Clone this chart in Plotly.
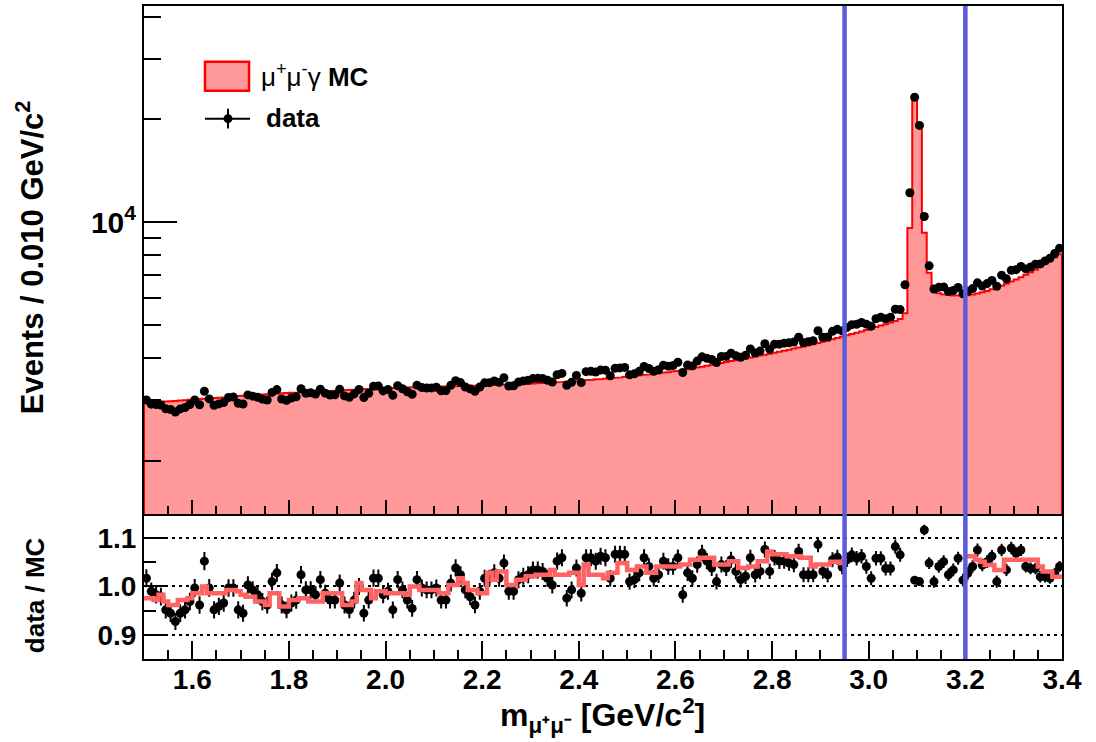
import plotly.graph_objects as go

# ---------------- data ----------------
x_lo, x_hi = 1.5, 3.4
bin_width = 0.01
n_bins = 190
bin_edges = [round(x_lo + bin_width * i, 3) for i in range(n_bins + 1)]
bin_centers = [round(x_lo + bin_width * (i + 0.5), 4) for i in range(n_bins)]

# MC (mu+ mu- gamma) counts per 0.010 GeV/c^2 bin
mc_counts = [
    2960, 2955, 2968, 2972, 2978, 2985, 2990, 2998, 3005, 3012,
    3020, 3028, 3035, 3040, 3048, 3055, 3060, 3070, 3078, 3090,
    3098, 3105, 3110, 3118, 3122, 3128, 3135, 3140, 3148, 3152,
    3158, 3162, 3170, 3172, 3180, 3185, 3190, 3195, 3200, 3205,
    3210, 3215, 3220, 3225, 3230, 3236, 3240, 3246, 3250, 3255,
    3260, 3262, 3266, 3270, 3272, 3276, 3280, 3282, 3285, 3288,
    3290, 3293, 3296, 3298, 3302, 3305, 3308, 3312, 3315, 3318,
    3322, 3325, 3328, 3332, 3336, 3340, 3344, 3348, 3352, 3356,
    3362, 3368, 3374, 3380, 3386, 3392, 3400, 3406, 3414, 3422,
    3432, 3440, 3448, 3456, 3466, 3474, 3484, 3494, 3504, 3516,
    3530, 3540, 3552, 3564, 3576, 3590, 3604, 3618, 3632, 3646,
    3664, 3684, 3704, 3724, 3744, 3766, 3788, 3810, 3834, 3860,
    3890, 3912, 3936, 3960, 3984, 4008, 4034, 4060, 4086, 4112,
    4140, 4168, 4196, 4226, 4256, 4288, 4320, 4352, 4386, 4420,
    4456, 4494, 4532, 4572, 4612, 4654, 4696, 4738, 4780, 4822,
    4870, 4920, 4970, 5020, 5075, 5130, 5200,
    5400, 9600, 22900, 19000, 9300, 7100, 6300,
    6180, 6140, 6110, 6090, 6080, 6080,
    6100, 6130, 6170, 6220, 6280, 6350, 6420, 6500, 6590, 6690,
    6790, 6890, 7000, 7120, 7250, 7390, 7540, 7700, 7870, 8050,
]

# data / MC per bin
ratio_vals = [
    1.017, 0.990, 0.983, 0.979, 0.952, 0.945, 0.928, 0.945, 0.952, 0.969,
    0.997, 0.962, 1.052, 0.997, 0.952, 0.959, 0.966, 0.997, 0.997, 0.952,
    0.945, 1.003, 0.993, 0.983, 0.969, 0.962, 1.010, 1.028, 0.962, 0.952,
    0.966, 0.972, 1.024, 0.993, 0.993, 0.983, 1.014, 0.986, 0.972, 0.972,
    1.007, 0.962, 0.952, 0.972, 1.000, 0.945, 0.972, 1.017,
    1.017, 0.983, 0.990, 0.952, 1.014, 0.993, 0.972, 0.955, 1.014, 0.997,
    0.993, 0.993, 0.997, 0.972, 0.972, 1.007, 1.038, 1.024, 0.993, 0.979,
    0.962, 0.990, 1.017, 1.017, 1.028, 1.017, 1.048, 0.990, 0.990, 1.014,
    1.021, 1.024, 1.034, 1.034, 1.031, 1.017, 1.003, 1.052, 1.059, 0.976,
    0.993, 1.038, 0.986, 1.059, 1.059, 1.052, 1.062,
    1.059, 1.017, 1.066, 1.066, 1.066, 1.010, 1.014, 1.028, 1.059, 1.041,
    1.017, 1.024, 1.052, 1.041, 1.041, 1.059, 0.983, 1.028, 1.017, 1.045,
    1.069, 1.052, 1.038, 1.010, 1.045, 1.038, 1.055, 1.031, 1.014, 1.021,
    1.059, 1.024, 1.031, 1.076, 1.031, 1.059, 1.052, 1.052, 1.048, 1.045,
    1.072, 1.024, 1.024, 1.024, 1.086, 1.031, 1.024, 1.055,
    1.060, 1.040, 1.055, 1.065, 1.058, 1.062, 1.041, 1.017, 1.058, 1.058,
    1.037, 1.037, 1.082, 1.065, 1.213, 1.269, 1.013, 1.010, 1.116, 1.048,
    1.010, 1.041, 1.051, 1.024, 1.034, 1.058, 1.013, 1.027, 1.041, 1.075,
    1.044, 1.051, 1.062, 1.010, 1.075, 1.034, 1.079, 1.068, 1.075, 1.041,
    1.037, 1.037, 1.020, 1.020, 1.017, 1.027, 1.041,
]

# smoothed correction curve shown in the lower panel (absent in the signal window)
ratio_band = [
    0.976, 0.976, 0.972, 0.983, 0.969, 0.962, 0.962, 0.972, 0.972, 0.976,
    0.986, 0.986, 1.000, 0.986, 0.986, 0.986, 0.986, 0.993, 0.993, 0.990,
    0.983, 0.979, 0.979, 0.969, 0.969, 0.962, 0.986, 0.986, 0.959, 0.959,
    0.972, 0.972, 0.976, 0.976, 0.969, 0.969, 0.969, 0.986, 0.986, 0.986,
    0.986, 0.962, 0.962, 0.969, 1.007, 0.993, 0.993, 0.976,
    0.990, 0.990, 0.986, 0.986, 0.986, 0.986, 0.983, 1.000, 1.000, 0.993,
    0.993, 0.993, 0.993, 0.986, 0.986, 1.003, 1.003, 1.017, 1.007, 0.993,
    0.993, 0.986, 0.986, 1.028, 1.014, 1.031, 1.031, 1.003, 1.003, 1.014,
    1.014, 1.021, 1.021, 1.024, 1.024, 1.024, 1.034, 1.024, 1.024, 1.024,
    1.028, 1.028, 1.003, 1.045, 1.024, 1.024, 1.024,
    1.017, 1.028, 1.028, 1.048, 1.048, 1.034, 1.034, 1.041, 1.041, 1.028,
    1.028, 1.041, 1.041, 1.041, 1.041, 1.041, 1.045, 1.045, 1.055, 1.055,
    1.059, 1.059, 1.059, 1.045, 1.045, 1.045, 1.052, 1.052, 1.038, 1.038,
    1.041, 1.041, 1.052, 1.052, 1.072, 1.066, 1.066, 1.066, 1.062, 1.062,
    1.062, 1.059, 1.059, 1.041, 1.045, 1.045, 1.045, 1.051,
    1.051, 1.048,
    None, None, None, None, None, None, None, None, None, None,
    None, None, None, None, None, None, None, None, None, None,
    None, None, None, None, None,
    1.062, 1.062, 1.055, 1.051, 1.044, 1.044, 1.034, 1.034, 1.055, 1.055,
    1.055, 1.055, 1.055, 1.055, 1.055, 1.041, 1.031, 1.031, 1.020, 1.020,
]

cut_lines = [2.95, 3.2]

x_ticks = [1.6, 1.8, 2.0, 2.2, 2.4, 2.6, 2.8, 3.0, 3.2, 3.4]
x_tick_labels = ["1.6", "1.8", "2.0", "2.2", "2.4", "2.6", "2.8", "3.0", "3.2", "3.4"]
y_ticks = [10000]
y_tick_labels = ["10<sup>4</sup>"]
y_minor_ticks = [2000, 3000, 4000, 5000, 6000, 7000, 8000, 9000, 20000, 30000, 40000]
r_ticks = [0.9, 1.0, 1.1]
r_tick_labels = ["0.9", "1.0", "1.1"]
r_minor_ticks = [0.95, 1.05]

# data counts follow from MC x (data/MC)
data_counts = [m * r for m, r in zip(mc_counts, ratio_vals)]
ratio_err = [r / d ** 0.5 for r, d in zip(ratio_vals, data_counts)]

# ---------------- styling ----------------
FONT = "Liberation Sans, Arial, Helvetica, sans-serif"
PINK = "#ff9999"
RED = "#ff0000"
BAND = "#ff6262"
BLUE = "#5b5bdb"

L, R, T, B = 144, 34, 4, 83
W, H = 1096, 742
PW, PH = W - L - R, H - T - B
split = (659 - 514) / PH


def px(xp):
    return (xp - L) / PW


def py(yp):
    return (H - B - yp) / PH


fig = go.Figure()

# MC histogram (filled step polygon)
floor_val = 100
mc_x, mc_y = [x_lo], [floor_val]
for i, v in enumerate(mc_counts):
    mc_x += [bin_edges[i], bin_edges[i + 1]]
    mc_y += [v, v]
mc_x.append(x_hi)
mc_y.append(floor_val)
fig.add_trace(go.Scatter(
    x=mc_x, y=mc_y, mode="lines", fill="toself", fillcolor=PINK,
    line=dict(color=RED, width=2), xaxis="x2", yaxis="y2",
    hoverinfo="skip", showlegend=False))

# data points (top)
fig.add_trace(go.Scatter(
    x=bin_centers, y=data_counts, mode="markers",
    marker=dict(color="black", size=9), xaxis="x2", yaxis="y2",
    showlegend=False))

# ratio points
fig.add_trace(go.Scatter(
    x=bin_centers, y=ratio_vals, mode="markers",
    marker=dict(color="black", size=9),
    error_y=dict(type="data", array=ratio_err, color="black", thickness=2, width=0),
    xaxis="x", yaxis="y", showlegend=False))

# ratio band step line
bx, by = [], []
for i, v in enumerate(ratio_band):
    if v is None:
        if bx and bx[-1] is not None:
            bx.append(None)
            by.append(None)
        continue
    bx += [bin_edges[i], bin_edges[i + 1]]
    by += [v, v]
fig.add_trace(go.Scatter(
    x=bx, y=by, mode="lines", line=dict(color=BAND, width=4.5),
    xaxis="x", yaxis="y", showlegend=False, hoverinfo="skip"))

tick_font = dict(family=FONT, size=28, color="black", weight="bold")

common_axis = dict(showline=True, linecolor="black", linewidth=2, mirror=True,
                   zeroline=False, tickcolor="black", tickwidth=2)

fig.update_layout(
    width=W, height=H,
    margin=dict(l=L, r=R, t=T, b=B),
    paper_bgcolor="white", plot_bgcolor="white",
    showlegend=False,
    xaxis=dict(domain=[0, 1], anchor="y", range=[x_lo, x_hi],
               ticks="inside", tickvals=x_ticks, ticktext=x_tick_labels, ticklen=18,
               ticklabelstandoff=-6,
               minor=dict(ticks="inside", dtick=0.05, tick0=1.5, ticklen=9,
                          tickwidth=2, tickcolor="black", showgrid=False),
               showgrid=False, tickfont=tick_font, **common_axis),
    xaxis2=dict(anchor="y2", matches="x", range=[x_lo, x_hi], showticklabels=False,
                ticks="inside", tickvals=x_ticks, ticklen=14,
                minor=dict(ticks="inside", dtick=0.05, tick0=1.5, ticklen=8,
                           tickwidth=2, tickcolor="black", showgrid=False),
                showgrid=False, **common_axis),
    yaxis=dict(domain=[0, split], anchor="x", range=[0.851, 1.148],
               ticks="inside", tickvals=r_ticks, ticktext=r_tick_labels, ticklen=23,
               showgrid=True, gridcolor="black", gridwidth=2, griddash="3px,4px",
               minor=dict(ticks="inside", tickvals=r_minor_ticks, ticklen=12,
                          tickwidth=2, tickcolor="black", showgrid=False),
               tickfont=tick_font, **common_axis),
    yaxis2=dict(domain=[split, 1], anchor="x2", type="log",
                range=[3.143, 4.633],
                ticks="inside", tickvals=y_ticks, ticktext=y_tick_labels, ticklen=33,
                minor=dict(ticks="inside", tickvals=y_minor_ticks, ticklen=17,
                           tickwidth=2, tickcolor="black", showgrid=False),
                showgrid=False, tickfont=dict(family=FONT, size=30, color="black", weight="bold"),
                **common_axis),
)

shapes = []
for xc in cut_lines:
    shapes.append(dict(type="line", xref="x", yref="paper", x0=xc, x1=xc, y0=0, y1=1,
                       line=dict(color=BLUE, width=4.5), layer="above"))

# legend glyphs
shapes.append(dict(type="rect", xref="paper", yref="paper",
                   x0=px(205), x1=px(249), y0=py(89), y1=py(60),
                   fillcolor=PINK, line=dict(color=RED, width=2.5)))
shapes.append(dict(type="line", xref="paper", yref="paper",
                   x0=px(205), x1=px(250), y0=py(117), y1=py(117),
                   line=dict(color="black", width=2)))
shapes.append(dict(type="line", xref="paper", yref="paper",
                   x0=px(228), x1=px(228), y0=py(127), y1=py(107),
                   line=dict(color="black", width=2)))
shapes.append(dict(type="circle", xref="paper", yref="paper",
                   x0=px(223.5), x1=px(232.5), y0=py(121.5), y1=py(112.5),
                   fillcolor="black", line=dict(color="black", width=0)))
fig.update_layout(shapes=shapes)

annotations = [
    dict(text="μ<sup>+</sup>μ<sup>-</sup>γ <b>MC</b>", xref="paper", yref="paper",
         x=px(259), y=py(74), xanchor="left", yanchor="middle", showarrow=False,
         font=dict(family=FONT, size=26, color="black")),
    dict(text="<b>data</b>", xref="paper", yref="paper",
         x=px(264), y=py(116), xanchor="left", yanchor="middle", showarrow=False,
         font=dict(family=FONT, size=26, color="black")),
    dict(text="<b>Events / 0.010 GeV/c<sup>2</sup></b>", xref="paper", yref="paper",
         x=px(30), y=py(256), xanchor="center", yanchor="middle", textangle=-90,
         showarrow=False, font=dict(family=FONT, size=31, color="black")),
    dict(text="<b>data / MC</b>", xref="paper", yref="paper",
         x=px(35), y=py(595), xanchor="center", yanchor="middle", textangle=-90,
         showarrow=False, font=dict(family=FONT, size=26, color="black")),
    dict(text="<b>m<sub>μ⁺μ⁻</sub> [GeV/c<sup>2</sup>]</b>", xref="paper", yref="paper",
         x=px(602), y=py(716), xanchor="center", yanchor="middle",
         showarrow=False, font=dict(family=FONT, size=32, color="black")),
]
fig.update_layout(annotations=annotations)

fig.write_html("out.html", config={"displayModeBar": False},
               post_script="document.body.style.margin='0px';")
